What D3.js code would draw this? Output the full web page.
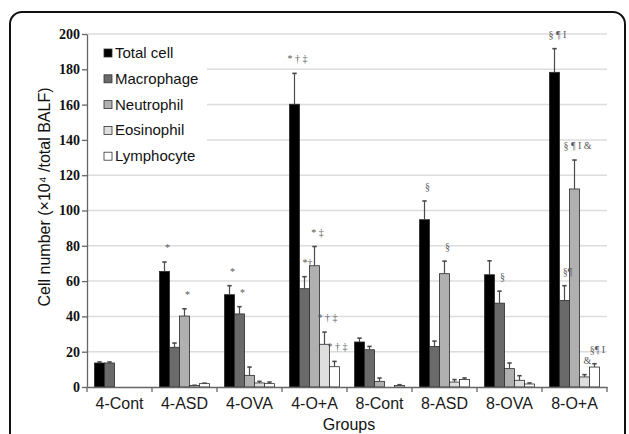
<!DOCTYPE html>
<html>
<head>
<meta charset="utf-8">
<script src="https://cdn.jsdelivr.net/npm/d3@7/dist/d3.min.js"></script>
<style>
  body { margin: 0; background: #fff; }
  svg { display: block; }
</style>
</head>
<body>
<div id="chart"></div>
<script>
var groups = ["4-Cont", "4-ASD", "4-OVA", "4-O+A", "8-Cont", "8-ASD", "8-OVA", "8-O+A"];
var seriesNames = ["Total cell", "Macrophage", "Neutrophil", "Eosinophil", "Lymphocyte"];

// means
var totalCell  = [13.6, 65.5, 52.3, 160.2, 25.5, 94.8, 63.6, 178.3];
var macrophage = [13.6, 22.5, 41.4, 55.7, 21.1, 23.0, 47.5, 49.0];
var neutrophil = [0, 40.2, 6.6, 68.7, 3.2, 64.2, 10.4, 112.2];
var eosinophil = [0, 0.8, 2.3, 24.2, 0, 2.8, 3.8, 5.7];
var lymphocyte = [0, 1.9, 1.9, 11.5, 0.9, 4.2, 1.7, 11.3];

// upper error (SD)
var totalErr  = [0.6, 5.3, 5.1, 17.5, 2.2, 10.6, 7.9, 13.4];
var macroErr  = [0.6, 2.4, 4.1, 6.8, 1.9, 3.0, 6.8, 8.4];
var neutroErr = [0, 4.1, 4.7, 10.9, 1.9, 7.1, 3.2, 16.4];
var eosErr    = [0, 0.2, 0.9, 6.9, 0, 1.4, 2.6, 1.3];
var lymphErr  = [0, 0.3, 0.9, 3.0, 0.4, 0.9, 0.6, 1.9];

var yTicks = [0, 20, 40, 60, 80, 100, 120, 140, 160, 180, 200];

// significance marks: group, series, text
var markGroup  = ["4-ASD", "4-ASD", "4-OVA", "4-OVA", "4-O+A", "4-O+A", "4-O+A", "4-O+A", "4-O+A",
                  "8-ASD", "8-ASD", "8-OVA", "8-O+A", "8-O+A", "8-O+A", "8-O+A", "8-O+A"];
var markSeries = ["Total cell", "Neutrophil", "Total cell", "Macrophage", "Total cell", "Macrophage", "Neutrophil", "Eosinophil", "Lymphocyte",
                  "Total cell", "Neutrophil", "Macrophage", "Total cell", "Macrophage", "Neutrophil", "Eosinophil", "Lymphocyte"];
var markText   = ["*", "*", "*", "*", "* \u2020 \u2021", "*\u2020", "* \u2021", "* \u2020 \u2021", "* \u2020 \u2021",
                  "\u00a7", "\u00a7", "\u00a7", "\u00a7 \u00b6 I", "\u00a7\u00b6", "\u00a7 \u00b6 I &", "&", "\u00a7\u00b6 I"];

var values = [totalCell, macrophage, neutrophil, eosinophil, lymphocyte];
var errors = [totalErr, macroErr, neutroErr, eosErr, lymphErr];
var colors = ["#000000", "#6a6a6a", "#b0b0b0", "#dedede", "#ffffff"];

var W = 629, H = 434;
var margin = {top: 34, right: 22, bottom: 47, left: 87};
var width = W - margin.left - margin.right,
    height = H - margin.top - margin.bottom;

var svg = d3.select("#chart").append("svg")
    .attr("width", W)
    .attr("height", H);

// outer frame
svg.append("rect")
    .attr("x", 10).attr("y", 12)
    .attr("width", 615).attr("height", 460)
    .attr("rx", 12)
    .attr("fill", "none")
    .attr("stroke", "#111")
    .attr("stroke-width", 2);

var g = svg.append("g")
    .attr("transform", "translate(" + margin.left + "," + margin.top + ")");

var x0 = d3.scaleBand().domain(groups).range([0, width]);
var x1 = d3.scaleBand().domain(seriesNames).range([0, x0.bandwidth()]).paddingInner(0).paddingOuter(0.75);
var y = d3.scaleLinear().domain([0, 200]).range([height, 0]);

// gridlines
g.append("g").selectAll("line")
    .data(yTicks.slice(1))
    .enter().append("line")
    .attr("x1", 0).attr("x2", width)
    .attr("y1", function (d) { return y(d); })
    .attr("y2", function (d) { return y(d); })
    .attr("stroke", "#dcdcdc")
    .attr("stroke-width", 1.5);

// legend background hides the gridlines
g.append("rect")
    .attr("x", 1).attr("y", 6)
    .attr("width", 119).attr("height", 126)
    .attr("fill", "#fff");

// bars
var rows = [];
groups.forEach(function (grp, i) {
    seriesNames.forEach(function (s, j) {
        rows.push({group: grp, series: s, value: values[j][i], err: errors[j][i], color: colors[j]});
    });
});

var barRows = rows.filter(function (d) { return d.value > 0; });

g.append("g").selectAll("rect")
    .data(barRows)
    .enter().append("rect")
    .attr("x", function (d) { return x0(d.group) + x1(d.series); })
    .attr("y", function (d) { return y(d.value); })
    .attr("width", x1.bandwidth())
    .attr("height", function (d) { return y(0) - y(d.value); })
    .attr("fill", function (d) { return d.color; })
    .attr("stroke", "#2a2a2a")
    .attr("stroke-width", 0.8);

// error bars (upper only)
var errRows = barRows.filter(function (d) { return d.err > 0; });
var eg = g.append("g").attr("stroke", "#4a4a4a");
eg.selectAll("line.v")
    .data(errRows)
    .enter().append("line")
    .attr("class", "v")
    .attr("x1", function (d) { return x0(d.group) + x1(d.series) + x1.bandwidth() / 2; })
    .attr("x2", function (d) { return x0(d.group) + x1(d.series) + x1.bandwidth() / 2; })
    .attr("y1", function (d) { return y(d.value); })
    .attr("y2", function (d) { return y(d.value + d.err); })
    .attr("stroke-width", 1.2);
eg.selectAll("line.c")
    .data(errRows)
    .enter().append("line")
    .attr("class", "c")
    .attr("x1", function (d) { return x0(d.group) + x1(d.series) + x1.bandwidth() / 2 - 2.2; })
    .attr("x2", function (d) { return x0(d.group) + x1(d.series) + x1.bandwidth() / 2 + 2.2; })
    .attr("y1", function (d) { return y(d.value + d.err); })
    .attr("y2", function (d) { return y(d.value + d.err); })
    .attr("stroke-width", 1.6);

// significance marks
var marks = markText.map(function (t, k) {
    var j = seriesNames.indexOf(markSeries[k]);
    var i = groups.indexOf(markGroup[k]);
    return {group: markGroup[k], series: markSeries[k], text: t, top: values[j][i] + errors[j][i]};
});
g.append("g").selectAll("text")
    .data(marks)
    .enter().append("text")
    .attr("x", function (d) { return x0(d.group) + x1(d.series) + x1.bandwidth() / 2 + 3; })
    .attr("y", function (d) { return y(d.top) - 11; })
    .attr("text-anchor", "middle")
    .style("font-family", "'Liberation Serif', 'Times New Roman', serif")
    .style("font-size", "10px")
    .style("fill", "#5a5a5a")
    .text(function (d) { return d.text; });

// y axis
var yAxis = g.append("g")
    .call(d3.axisLeft(y).tickValues(yTicks).tickSize(5).tickSizeOuter(0));
yAxis.select(".domain").attr("stroke", "#666").attr("stroke-width", 1.3);
yAxis.selectAll(".tick line").attr("stroke", "#666").attr("stroke-width", 1.3);
yAxis.selectAll("text")
    .attr("x", -7)
    .style("font-family", "'Liberation Serif', 'Times New Roman', serif")
    .style("font-weight", "bold")
    .style("font-size", "14px")
    .style("fill", "#111");

// x axis
var xAxis = g.append("g")
    .attr("transform", "translate(0," + height + ")")
    .call(d3.axisBottom(x0).tickSize(0).tickSizeOuter(0));
xAxis.select(".domain").attr("stroke", "#666").attr("stroke-width", 1.3);
xAxis.selectAll("text")
    .attr("dy", "1.2em")
    .style("font-family", "'Liberation Sans', Arial, sans-serif")
    .style("font-size", "16px")
    .style("fill", "#1a1a1a");

// boundary ticks between groups
xAxis.selectAll("line.bound")
    .data(groups.map(function (d) { return x0(d); }).concat([x0.range()[1]]))
    .enter().append("line")
    .attr("class", "bound")
    .attr("x1", function (d) { return d; })
    .attr("x2", function (d) { return d; })
    .attr("y1", 0).attr("y2", 5)
    .attr("stroke", "#666")
    .attr("stroke-width", 1.3);

// legend
var legend = g.append("g").attr("transform", "translate(17,15)");
seriesNames.forEach(function (s, j) {
    var row = legend.append("g").attr("transform", "translate(0," + (j * 25.8) + ")");
    row.append("rect")
        .attr("x", 0).attr("y", 0)
        .attr("width", 8).attr("height", 8)
        .attr("fill", colors[j])
        .attr("stroke", "#333")
        .attr("stroke-width", 0.8);
    row.append("text")
        .attr("x", 11).attr("y", 9)
        .style("font-family", "'Liberation Sans', Arial, sans-serif")
        .style("font-size", "15px")
        .style("fill", "#111")
        .text(s);
});

// axis titles
svg.append("text")
    .attr("transform", "translate(50,197) rotate(-90)")
    .attr("text-anchor", "middle")
    .style("font-family", "'Liberation Sans', Arial, sans-serif")
    .style("font-size", "16px")
    .style("fill", "#111")
    .text("Cell number (\u00d710\u2074 /total BALF)");

svg.append("text")
    .attr("x", margin.left + width / 2 + 2)
    .attr("y", 430)
    .attr("text-anchor", "middle")
    .style("font-family", "'Liberation Sans', Arial, sans-serif")
    .style("font-size", "16px")
    .style("fill", "#111")
    .text("Groups");
</script>
</body>
</html>
